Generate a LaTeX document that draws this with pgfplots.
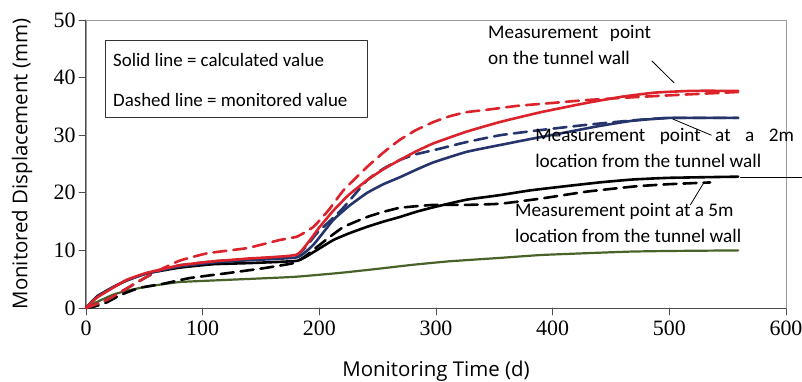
\documentclass[border=0pt]{standalone}
\usepackage{fontspec}
\setmainfont{Carlito}
\newfontfamily\numfont{Liberation Serif}
\newfontfamily\labelfont{Open Sans}
\usepackage{pgfplots}
\pgfplotsset{compat=1.18}
\definecolor{wallred}{RGB}{220,34,42}
\definecolor{navy}{RGB}{38,52,108}
\definecolor{olive}{RGB}{72,98,42}
\begin{document}
\begin{tikzpicture}
\begin{axis}[
  at={(0,0)}, anchor=south west,
  scale only axis, width=700bp, height=288bp,
  xmin=0, xmax=600, ymin=0, ymax=50,
  xtick={0,100,...,600}, ytick={0,10,...,50},
  axis line style={draw=black!40, line width=0.9bp},
  tick align=outside, tick pos=left,
  major tick length=7bp,
  tick style={draw=black!70, line width=0.8bp},
  ticklabel style={font=\numfont\fontsize{22}{22}\selectfont},
  xticklabel style={yshift=-2bp},
  /pgf/number format/assume math mode=true,
  clip=false,
  line join=round, line cap=round,
  calc/.style={line width=2.6bp, smooth, tension=0.25},
  mon/.style={line width=2.6bp, dash pattern=on 13bp off 7bp, smooth, tension=0.25},
]
% left and bottom axis lines drawn darker than the frame
\draw[black!70, line width=1bp] (rel axis cs:0,1) -- (rel axis cs:0,0) -- (rel axis cs:1,0);

% 5 m, lower curve (calculated only)
\addplot[olive, line width=2.2bp, smooth, tension=0.25] coordinates {
 (0,0) (5,0.6) (10,1.1) (23,2.3) (35,3.0) (52,3.7) (80,4.5) (123,4.9) (178,5.4)
 (218,6.1) (250,6.8) (280,7.5) (311,8.1) (355,8.7) (390,9.2) (440,9.6) (468,9.8)
 (500,9.9) (559,10.0)};

% black: calculated / monitored
\addplot[black, calc] coordinates {
 (0,0) (5,1.1) (10,2.1) (23,3.6) (35,4.8) (52,6.0) (80,7.0) (109,7.6) (140,7.8)
 (181,8.2) (195,9.7) (212,11.8) (226,13.0) (241,14.1) (255,15.0) (269,15.8)
 (283,16.7) (298,17.5) (326,18.8) (355,19.6) (380,20.4) (409,21.1) (440,21.8)
 (468,22.3) (500,22.6) (559,22.8)};
\addplot[black, mon] coordinates {
 (0,0) (8,0.3) (18,1.0) (30,2.3) (46,3.5) (66,4.2) (89,5.2) (123,6.1) (152,6.9)
 (178,7.8) (188,9.0) (198,10.6) (210,12.5) (221,14.1) (241,15.8) (255,16.7)
 (269,17.4) (285,17.7) (298,17.9) (326,17.9) (355,18.1) (390,19.0) (429,20.2)
 (470,21.1) (500,21.5) (535,21.8)};

% blue: calculated / monitored
\addplot[navy, calc] coordinates {
 (0,0) (5,1.1) (10,2.0) (23,3.6) (35,4.8) (52,6.0) (80,7.2) (109,7.9) (140,8.3)
 (181,8.8) (195,11.0) (212,15.3) (226,17.8) (241,20.0) (255,21.5) (269,22.7)
 (283,24.0) (298,25.3) (326,27.1) (355,28.3) (380,29.3) (409,30.4) (440,31.6)
 (468,32.5) (500,33.0) (559,33.0)};
\addplot[navy, mon] coordinates {
 (0,0) (8,0.6) (18,1.4) (30,2.8) (40,4.0) (52,5.4) (63,6.5) (80,7.4) (109,8.1)
 (140,8.5) (181,9.2) (198,13.0) (210,15.3) (221,17.5) (241,22.2) (255,24.2)
 (269,25.7) (283,26.7) (298,27.4) (326,28.8) (355,30.0) (390,30.9) (429,31.8)
 (470,32.6) (500,33.0) (559,33.0)};

% red: calculated / monitored
\addplot[wallred, calc] coordinates {
 (0,0) (5,1.0) (10,1.9) (23,3.5) (35,4.9) (52,6.1) (80,7.4) (109,8.1) (140,8.6)
 (181,9.3) (200,14.0) (212,16.9) (225,19.6) (241,22.2) (255,24.1) (269,25.7)
 (283,27.2) (298,28.6) (326,30.6) (355,32.3) (390,34.0) (429,35.6) (460,36.7)
 (488,37.4) (520,37.7) (559,37.7)};
\addplot[wallred, mon] coordinates {
 (0,0) (8,0.6) (18,1.4) (30,2.8) (40,4.0) (52,5.4) (63,6.6) (80,8.2) (104,9.5)
 (138,10.4) (166,11.8) (181,12.4) (195,14.1) (208,17.0) (221,20.5) (241,24.5)
 (255,27.0) (269,29.2) (283,30.9) (298,32.3) (312,33.3) (326,34.0) (343,34.4)
 (370,35.1) (400,35.6) (429,36.1) (470,36.6) (508,37.0) (559,37.5)};

% key box
\draw[black!80, line width=0.9bp] (axis cs:17,46.5) rectangle (axis cs:241,33);
\node[anchor=west, font=\fontsize{19}{19}\selectfont, inner sep=0pt] at (axis cs:23.1,43.0) {Solid line = calculated value};
\node[anchor=west, font=\fontsize{19}{19}\selectfont, inner sep=0pt] at (axis cs:23.1,36.1) {Dashed line = monitored value};

% annotations
\begin{scope}[every node/.style={anchor=west, inner sep=0pt, font=\fontsize{19.3}{19.3}\selectfont}]
\node at (axis cs:344.6,47.6) {Measurement\hspace{0.6em}point};
\node at (axis cs:344.6,43.4) {on the tunnel wall};
\node at (axis cs:384.9,29.7) {Measurement\hspace{0.75em}point\hspace{0.75em}at\hspace{0.75em}a\hspace{0.75em}2m};
\node at (axis cs:384.9,25.5) {location from the tunnel wall};
\node at (axis cs:367.7,16.7) {Measurement point at a 5m};
\node at (axis cs:367.7,12.5) {location from the tunnel wall};
\end{scope}
\draw[black, line width=0.8bp] (axis cs:485,42.9) -- (axis cs:504,39.1);
\draw[black, line width=0.8bp] (axis cs:503,32.8) -- (axis cs:536,30.0);
\draw[black, line width=0.8bp] (axis cs:530,21.9) -- (axis cs:518,17.9);
\draw[black, line width=0.8bp] (axis cs:561,22.7) -- (axis cs:614,22.7);

% axis titles
\node[font=\labelfont\fontsize{20.5}{20.5}\selectfont, rotate=90] at ([xshift=-64bp]rel axis cs:0,0.5) {Monitored Displacement (mm)};
\node[font=\labelfont\fontsize{20.5}{20.5}\selectfont] at ([yshift=-63bp]rel axis cs:0.5,0) {Monitoring Time (d)};
\end{axis}
\pgfresetboundingbox
\path[use as bounding box] (-86bp,-74bp) rectangle (716bp,308bp);
\end{tikzpicture}
\end{document}
